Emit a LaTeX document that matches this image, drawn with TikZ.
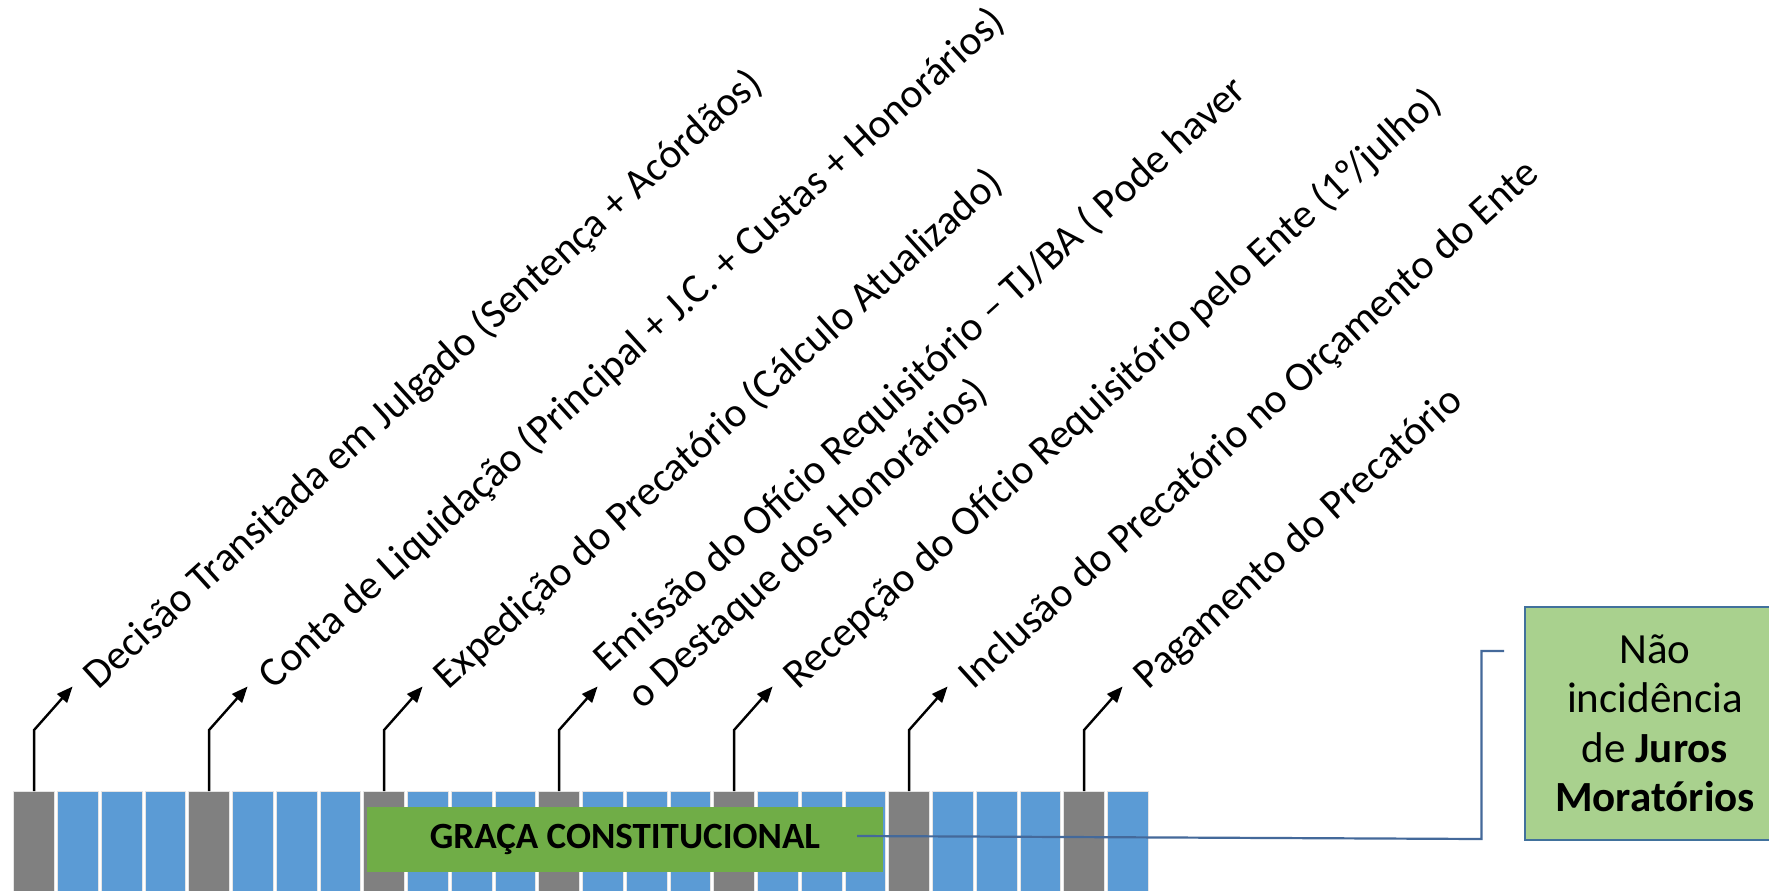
\documentclass[tikz,border=0pt]{standalone}
\usepackage{fontspec}
\setmainfont{Carlito}
\usetikzlibrary{arrows.meta}
\definecolor{cellblue}{HTML}{5B9BD5}
\definecolor{cellgray}{HTML}{808080}
\definecolor{bargreen}{HTML}{70AD47}
\definecolor{boxgreen}{HTML}{A9D18E}
\definecolor{boxblue}{HTML}{41719C}
\definecolor{linkblue}{HTML}{44699A}
\begin{document}
\begin{tikzpicture}[x=1pt,y=-1pt,
  cellbox/.style={draw=black!10, line width=0.8pt, minimum width=40.6pt, minimum height=110pt, inner sep=0pt, anchor=north west},
  arr/.style={line width=2.4pt, -{Triangle[length=16pt,width=13pt]}},
  lbl/.style={rotate=42.2, inner sep=0pt, font=\fontsize{41.5}{50}\selectfont, align=left},
  link/.style={draw=linkblue, line width=2.2pt},
  notebox/.style={fill=boxgreen, draw=boxblue, line width=2.5pt, minimum width=260pt, minimum height=233pt, inner sep=0pt, align=center, font=\fontsize{43}{49.5}\selectfont},
  barbox/.style={fill=bargreen, minimum width=516.4pt, minimum height=65pt, inner sep=0pt, anchor=north west, font=\fontsize{37}{44}\selectfont\bfseries}
]
\fill[white] (0,0) rectangle (1769,891);
\clip (0,0) rectangle (1769,891);
\path[use as bounding box] (0,0) rectangle (1769,891);
% timeline cells
\foreach \i in {0,...,25}{
  \pgfmathtruncatemacro\m{mod(\i,4)}
  \ifnum\m=0 \def\cc{cellgray}\else\def\cc{cellblue}\fi
  \node[cellbox, fill=\cc] (c\i) at ({13.4+43.75*\i},791) {};
}
% green bar
\node[barbox] (bar) at (366.6,807) {GRAÇA CONSTITUCIONAL};
% arrows
\foreach \k in {0,...,6}{
  \pgfmathtruncatemacro\n{4*\k}
  \draw[arr] (c\n.north) -- ++(0,-61) -- ++(38.5,-43.5) coordinate (t\k);
}
% labels
\node[lbl, anchor=base west] (l0) at ([shift={(26,4)}]t0) {Decisão Transitada em Julgado (Sentença + Acórdãos)};
\node[lbl, anchor=base west] (l1) at ([shift={(26,4)}]t1) {Conta de Liquidação (Principal + J.C. + Custas + Honorários)};
\node[lbl, anchor=base west] (l2) at ([shift={(26,4)}]t2) {Expedição do Precatório (Cálculo Atualizado)};
\node[lbl, anchor=west] (l3) at ([shift={(20,-3)}]t3) {Emissão do Ofício Requisitório – TJ/BA ( Pode haver\\ o Destaque dos Honorários)};
\node[lbl, anchor=base west] (l4) at ([shift={(26,4)}]t4) {Recepção do Ofício Requisitório pelo Ente (1º\kern-0.15em/julho)};
\node[lbl, anchor=base west] (l5) at ([shift={(26,4)}]t5) {Inclusão do Precatório no Orçamento do Ente};
\node[lbl, anchor=base west] (l6) at ([shift={(26,4)}]t6) {Pagamento do Precatório};
% note box
\node[notebox] (note) at (1655,723.5) {Não\\incidência\\de \textbf{Juros}\\\textbf{Moratórios}};
% connector
\coordinate (lstart) at (857,836);
\coordinate (lend) at (1504,651);
\draw[link] (lstart) -- (1481.5,839) |- (lend);
\end{tikzpicture}
\end{document}
